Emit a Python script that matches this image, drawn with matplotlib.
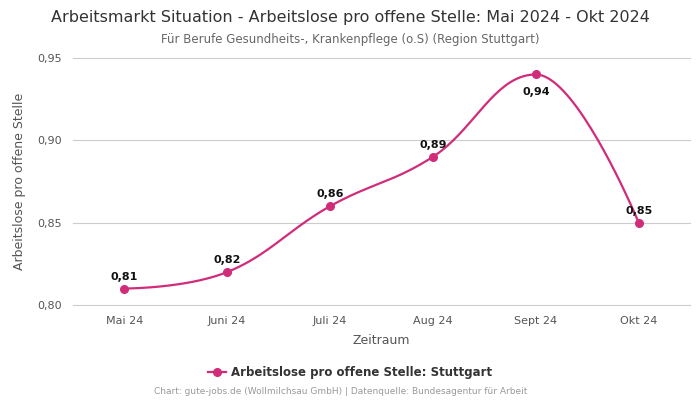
import numpy as np
import matplotlib
matplotlib.use("Agg")
import matplotlib.pyplot as plt
from matplotlib.lines import Line2D

categories = ["Mai 24", "Juni 24", "Juli 24", "Aug 24", "Sept 24", "Okt 24"]
values = [0.81, 0.82, 0.86, 0.89, 0.94, 0.85]
labels = ["0,81", "0,82", "0,86", "0,89", "0,94", "0,85"]
yticks = [0.80, 0.85, 0.90, 0.95]
ytick_labels = ["0,80", "0,85", "0,90", "0,95"]

color = "#d12c7a"

def spline_curve(x, y, n=40, s=1.5):
    """Highcharts-style spline with bezier control points."""
    x = list(map(float, x)); y = list(map(float, y))
    N = len(x)
    left = [(x[i], y[i]) for i in range(N)]
    right = [(x[i], y[i]) for i in range(N)]
    for i in range(1, N - 1):
        d = s + 1
        lcx = (s * x[i] + x[i-1]) / d; lcy = (s * y[i] + y[i-1]) / d
        rcx = (s * x[i] + x[i+1]) / d; rcy = (s * y[i] + y[i+1]) / d
        if rcx != lcx:
            corr = ((rcy - lcy) * (rcx - x[i])) / (rcx - lcx) + y[i] - rcy
            lcy += corr; rcy += corr
        if lcy > max(y[i-1], y[i]):
            lcy = max(y[i-1], y[i]); rcy = 2 * y[i] - lcy
        elif lcy < min(y[i-1], y[i]):
            lcy = min(y[i-1], y[i]); rcy = 2 * y[i] - lcy
        if rcy > max(y[i], y[i+1]):
            rcy = max(y[i], y[i+1]); lcy = 2 * y[i] - rcy
        elif rcy < min(y[i], y[i+1]):
            rcy = min(y[i], y[i+1]); lcy = 2 * y[i] - rcy
        left[i] = (lcx, lcy); right[i] = (rcx, rcy)
    xs, ys = [], []
    t = np.linspace(0, 1, n)
    for i in range(N - 1):
        p0 = (x[i], y[i]); p1 = right[i]; p2 = left[i+1]; p3 = (x[i+1], y[i+1])
        b = [(1-t)**3, 3*(1-t)**2*t, 3*(1-t)*t**2, t**3]
        xs.append(b[0]*p0[0] + b[1]*p1[0] + b[2]*p2[0] + b[3]*p3[0])
        ys.append(b[0]*p0[1] + b[1]*p1[1] + b[2]*p2[1] + b[3]*p3[1])
    return np.concatenate(xs), np.concatenate(ys)

fig = plt.figure(figsize=(7, 4), dpi=100)
ax = fig.add_axes([0.104, 0.2375, 0.882, 0.6175])

xpos = np.arange(len(categories))
cx, cy = spline_curve(xpos, values)
ax.plot(cx, cy, color=color, lw=1.6, zorder=3)
ax.plot(xpos, values, "o", color=color, ms=5.5, zorder=4)

for i, (v, lab) in enumerate(zip(values, labels)):
    if i == 4:
        ax.annotate(lab, (i, v), xytext=(0, -9), textcoords="offset points",
                    ha="center", va="top", fontsize=8, fontweight="bold", color="#111111")
    else:
        ax.annotate(lab, (i, v), xytext=(0, 5), textcoords="offset points",
                    ha="center", va="bottom", fontsize=8, fontweight="bold", color="#111111")

ax.set_xlim(-0.5, 5.5)
ax.set_ylim(0.80, 0.95)
ax.set_yticks(yticks)
ax.set_yticklabels(ytick_labels)
ax.set_xticks(xpos)
ax.set_xticklabels(categories)
ax.tick_params(axis="both", length=0, labelsize=8, colors="#555555", pad=8)
for yv in yticks:
    ax.axhline(yv, color="#cccccc", lw=0.8, zorder=0, clip_on=False)
for s in ax.spines.values():
    s.set_visible(False)
ax.set_xlabel("Zeitraum", fontsize=9, color="#555555", labelpad=6)
ax.set_ylabel("Arbeitslose pro offene Stelle", fontsize=9, color="#555555", labelpad=8)

fig.text(0.5, 0.957, "Arbeitsmarkt Situation - Arbeitslose pro offene Stelle: Mai 2024 - Okt 2024",
         ha="center", va="center", fontsize=11.5, color="#333333")
fig.text(0.5, 0.902, "Für Berufe Gesundheits-, Krankenpflege (o.S) (Region Stuttgart)",
         ha="center", va="center", fontsize=8.5, color="#666666")

handle = Line2D([0], [0], color=color, lw=1.6, marker="o", ms=5.5)
fig.legend([handle], ["Arbeitslose pro offene Stelle: Stuttgart"], loc="center",
           bbox_to_anchor=(0.5, 0.068), frameon=False, prop={"size": 8.5, "weight": "bold"},
           labelcolor="#333333", handlelength=1.5, handletextpad=0.4)
fig.text(0.486, 0.02, "Chart: gute-jobs.de (Wollmilchsau GmbH) | Datenquelle: Bundesagentur für Arbeit",
         ha="center", va="center", fontsize=6.5, color="#999999")

fig.savefig("out.png", dpi=100)
